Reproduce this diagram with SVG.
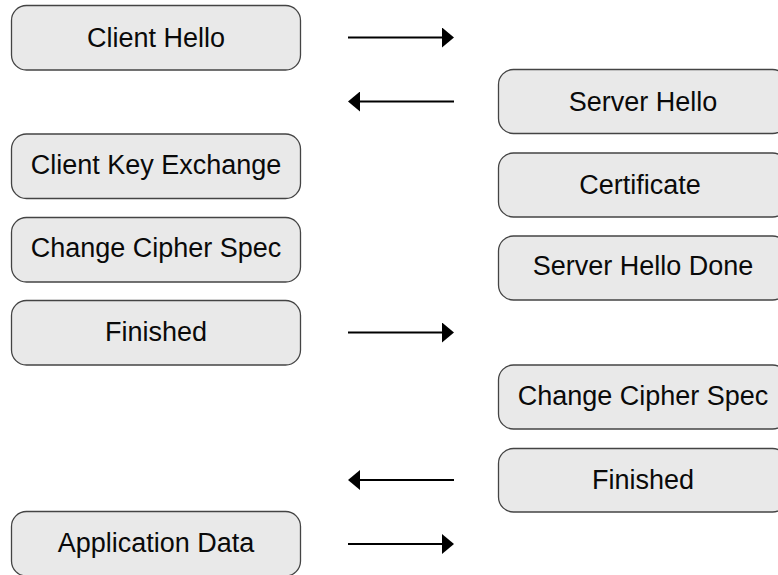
<svg xmlns="http://www.w3.org/2000/svg" width="778" height="575" viewBox="0 0 778 575">
  <style>
    .box { fill: #e9e9e9; stroke: #444; stroke-width: 1.3; }
    .label { font-family: "Liberation Sans", Arial, sans-serif; font-size: 27px; fill: #0a0a0a; text-anchor: middle; }
    .msg { stroke: #000; stroke-width: 2.2; fill: none; marker-end: url(#head); }
  </style>
  <defs>
    <marker id="head" markerUnits="userSpaceOnUse" markerWidth="12" markerHeight="20" refX="3" refY="10" orient="auto" viewBox="0 0 12 20">
      <path d="M0,0 L12,10 L0,20 Z" fill="#000"/>
    </marker>
  </defs>
  <rect width="778" height="575" fill="#fff"/>

  <!-- client side -->
  <g id="client-hello">
    <rect class="box" x="11.5" y="5.5" width="289" height="64.5" rx="15"/>
    <text class="label" x="156" y="46.5">Client Hello</text>
  </g>
  <g id="client-key-exchange">
    <rect class="box" x="11.5" y="134" width="289" height="64.5" rx="15"/>
    <text class="label" x="156" y="173.5">Client Key Exchange</text>
  </g>
  <g id="client-change-cipher-spec">
    <rect class="box" x="11.5" y="217.5" width="289" height="64.5" rx="15"/>
    <text class="label" x="156" y="257">Change Cipher Spec</text>
  </g>
  <g id="client-finished">
    <rect class="box" x="11.5" y="300.5" width="289" height="64.5" rx="15"/>
    <text class="label" x="156" y="341">Finished</text>
  </g>
  <g id="application-data">
    <rect class="box" x="11.5" y="511.5" width="289" height="64.5" rx="15"/>
    <text class="label" x="156" y="552">Application Data</text>
  </g>

  <!-- server side -->
  <g id="server-hello">
    <rect class="box" x="498.5" y="69.5" width="289" height="64" rx="15"/>
    <text class="label" x="643" y="111">Server Hello</text>
  </g>
  <g id="certificate">
    <rect class="box" x="498.5" y="153" width="289" height="64" rx="15"/>
    <text class="label" x="640" y="193.5">Certificate</text>
  </g>
  <g id="server-hello-done">
    <rect class="box" x="498.5" y="236" width="289" height="64" rx="15"/>
    <text class="label" x="643" y="275">Server Hello Done</text>
  </g>
  <g id="server-change-cipher-spec">
    <rect class="box" x="498.5" y="365" width="289" height="64" rx="15"/>
    <text class="label" x="643" y="404.5">Change Cipher Spec</text>
  </g>
  <g id="server-finished">
    <rect class="box" x="498.5" y="448.5" width="289" height="63.5" rx="15"/>
    <text class="label" x="643" y="489">Finished</text>
  </g>

  <!-- message arrows -->
  <g id="connectors">
    <line class="msg" x1="348" y1="37.5" x2="445" y2="37.5"/>
    <line class="msg" x1="454" y1="101.5" x2="357" y2="101.5"/>
    <line class="msg" x1="348" y1="332.5" x2="445" y2="332.5"/>
    <line class="msg" x1="454" y1="480" x2="357" y2="480"/>
    <line class="msg" x1="348" y1="544" x2="445" y2="544"/>
  </g>
</svg>
